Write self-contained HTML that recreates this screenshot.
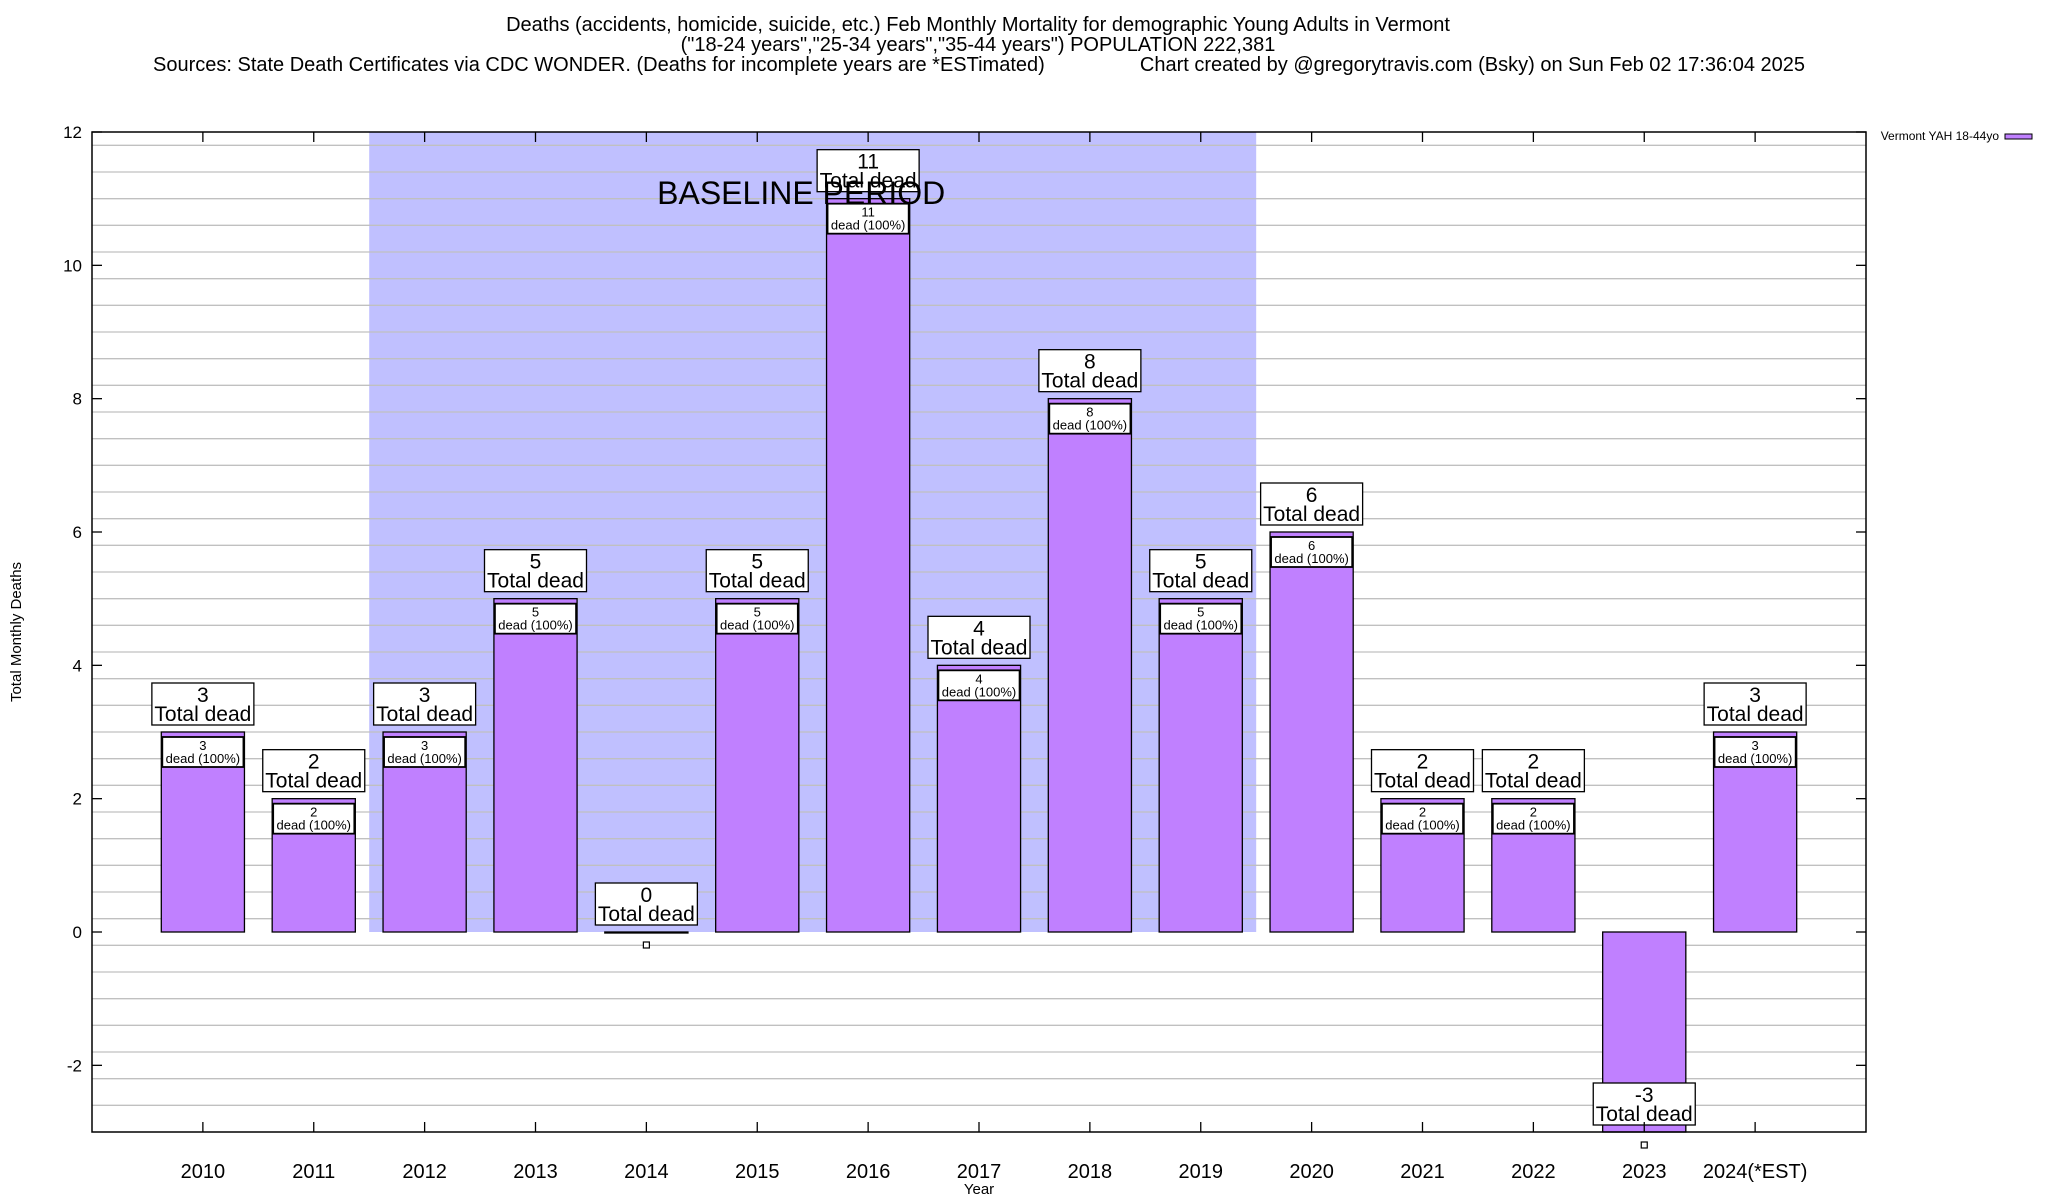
<!DOCTYPE html>
<html><head><meta charset="utf-8">
<style>
html,body{margin:0;padding:0;background:#fff;}
svg{display:block;font-family:"Liberation Sans",Arial,sans-serif;}
</style></head>
<body>
<svg id="chart" width="2048" height="1200" viewBox="0 0 2048 1200" xmlns="http://www.w3.org/2000/svg">
<g font-size="20" text-anchor="middle" fill="#000">
<text x="978" y="31">Deaths (accidents, homicide, suicide, etc.) Feb Monthly Mortality for demographic Young Adults in Vermont</text>
<text x="978" y="51">("18-24 years","25-34 years","35-44 years") POPULATION 222,381</text>
<text x="153" y="71" text-anchor="start">Sources: State Death Certificates via CDC WONDER. (Deaths for incomplete years are *ESTimated)</text>
<text x="1805" y="71" text-anchor="end">Chart created by @gregorytravis.com (Bsky) on Sun Feb 02 17:36:04 2025</text>
</g>
<g id="plot"></g>
</svg>
<script>
const categories = ["2010","2011","2012","2013","2014","2015","2016","2017","2018","2019","2020","2021","2022","2023","2024(*EST)"];
const deaths = [3,2,3,5,0,5,11,4,8,5,6,2,2,-3,3];
const yTicks = [-2,0,2,4,6,8,10,12];
const baselineStart = 2; // index of 2012
const baselineEnd = 9;   // index of 2019

const NS = "http://www.w3.org/2000/svg";
const X0 = 92, X1 = 1866, Y0 = 132, Y1 = 1132;
const xMin = 0, xMax = 16, yMin = -3, yMax = 12;
const xs = v => X0 + (v - xMin) / (xMax - xMin) * (X1 - X0);
const ys = v => Y1 - (v - yMin) / (yMax - yMin) * (Y1 - Y0);
const g = document.getElementById("plot");
function mk(tag, attrs, parent) {
  const e = document.createElementNS(NS, tag);
  for (const k in attrs) e.setAttribute(k, attrs[k]);
  (parent || g).appendChild(e);
  return e;
}
function txt(x, y, s, size, anchor, parent) {
  const t = mk("text", {x: x, y: y, "font-size": size, "text-anchor": anchor || "middle", fill: "#000"}, parent);
  t.textContent = s;
  return t;
}

// baseline shading
const shade = mk("rect", {x: xs(baselineStart + 0.5), y: Y0, width: xs(baselineEnd + 1.5) - xs(baselineStart + 0.5), height: ys(0) - Y0, fill: "#c0c0ff"});



// grid lines every 0.4
const grid = mk("g", {});


for (let i = 1; i < 38; i++) {
  const v = yMin + i * 0.4;
  if (v >= yMax - 0.01) break;
  mk("line", {x1: X0, x2: X1, y1: ys(v), y2: ys(v), stroke: "#c0c0c0", "stroke-width": 1.3}, grid);
}

// y ticks
const yAxis = mk("g", {});


yTicks.forEach(v => {
  mk("line", {x1: X0, x2: X0 + 10, y1: ys(v), y2: ys(v), stroke: "#000", "stroke-width": 1.3}, yAxis);
  mk("line", {x1: X1 - 10, x2: X1, y1: ys(v), y2: ys(v), stroke: "#000", "stroke-width": 1.3}, yAxis);
  const t = txt(X0 - 10, ys(v) + 6, String(v), 17, "end", yAxis);
  
  
});
const yt = txt(0, 0, "Total Monthly Deaths", 15, "middle", yAxis);
yt.setAttribute("transform", "translate(21," + ((Y0 + Y1) / 2) + ") rotate(-90)");



// bars
categories.forEach((c, i) => {
  const v = deaths[i];
  const cx = xs(i + 1), bw = xs(0.75) - xs(0);
  const bg = mk("g", {});
  
  
  const top = Math.min(ys(v), ys(0)), h = Math.abs(ys(v) - ys(0));
  mk("rect", {x: cx - bw / 2, y: top, width: bw, height: Math.max(h, 1), fill: "#c080ff", stroke: "#000", "stroke-width": 1.3}, bg);
  if (v > 0) {
    mk("rect", {x: cx - bw / 2 + 1, y: ys(v) + 5, width: bw - 2, height: 30, fill: "#fff", stroke: "#000", "stroke-width": 1.8}, bg);
    txt(cx, ys(v) + 18, String(v), 13, "middle", bg);
    txt(cx, ys(v) + 31, "dead (100%)", 13, "middle", bg);
  } else {
    mk("rect", {x: cx - 3, y: ys(v) + 10, width: 6, height: 6, fill: "#fff", stroke: "#000", "stroke-width": 1.2}, bg);
  }
  // top label box
  const lb = mk("g", {});
  
  
  mk("rect", {x: cx - 51, y: ys(v) - 49, width: 102, height: 42, fill: "#fff", stroke: "#000", "stroke-width": 1.3}, lb);
  txt(cx, ys(v) - 30, String(v), 21, "middle", lb);
  txt(cx, ys(v) - 11, "Total dead", 21, "middle", lb);
  // x ticks and labels
  mk("line", {x1: cx, x2: cx, y1: Y1, y2: Y1 - 10, stroke: "#000", "stroke-width": 1.3});
  mk("line", {x1: cx, x2: cx, y1: Y0, y2: Y0 + 10, stroke: "#000", "stroke-width": 1.3});
  const xl = txt(cx, 1178, c, 20, "middle");
  
  
});

// baseline text
const bt = txt(xs(baselineStart + 0.5) + 432, 204, "BASELINE PERIOD", 32, "middle");



// border
const border = mk("rect", {x: X0, y: Y0, width: X1 - X0, height: Y1 - Y0, fill: "none", stroke: "#000", "stroke-width": 1.5});



const xt = txt((X0 + X1) / 2, 1194, "Year", 15, "middle");



// legend
const lg = mk("g", {});


txt(1999, 140, "Vermont YAH 18-44yo", 12, "end", lg);
mk("rect", {x: 2005, y: 134, width: 27, height: 5, fill: "#c080ff", stroke: "#000", "stroke-width": 1}, lg);
</script>
</body></html>
